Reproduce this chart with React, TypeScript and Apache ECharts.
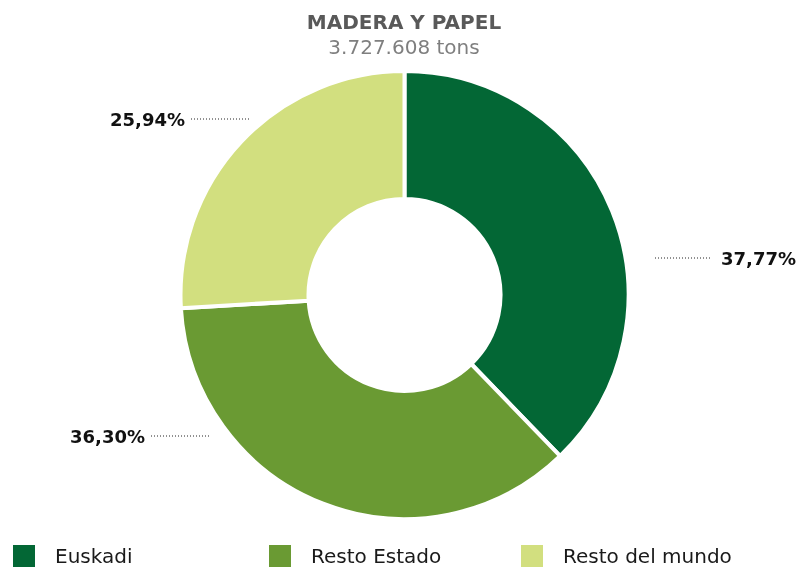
import React, { useEffect, useRef } from "react";
import * as echarts from "echarts";

const categories = ["Euskadi", "Resto Estado", "Resto del mundo"];
const shares = [37.77, 36.3, 25.94];
const sliceColors = ["#036735", "#6a9a33", "#d2df7f"];
const titleText = "MADERA Y PAPEL";
const subtitleText = "3.727.608 tons";

// label placement (layout only)
const labelSpots = [
  { x: 796, y: 258, align: "right" },
  { x: 145, y: 436, align: "right" },
  { x: 185, y: 119, align: "right" },
];
const leaderLines = [
  [655, 712, 258],
  [151, 209, 436],
  [191, 249, 119],
];
const legendLefts = [11, 267, 519];

const FONT = "DejaVu Sans";

export default function App() {
  const ref = useRef<HTMLDivElement>(null);
  useEffect(() => {
    if (!ref.current) return;
    const chart = echarts.init(ref.current, undefined, { renderer: "svg" });
    const fmt = (v: number) => v.toFixed(2).replace(".", ",") + "%";
    chart.setOption({
      animation: false,
      color: sliceColors,
      title: {
        text: titleText,
        subtext: subtitleText,
        left: 404,
        top: 11,
        textAlign: "center",
        itemGap: 3,
        padding: 0,
        textStyle: { fontFamily: FONT, fontSize: 20, fontWeight: "bold", color: "#595959", lineHeight: 22 },
        subtextStyle: { fontFamily: FONT, fontSize: 20, color: "#7f7f7f", lineHeight: 22 },
      },
      legend: categories.map((c, i) => ({
        data: [c],
        left: legendLefts[i],
        top: 543,
        padding: 0,
        icon: "rect",
        itemWidth: 24,
        itemHeight: 24,
        itemGap: 17,
        selectedMode: false,
        textStyle: {
          fontFamily: FONT,
          fontSize: 20,
          lineHeight: 18,
          color: "#1a1a1a",
          padding: [0, 0, 0, 14],
        },
      })),
      series: [
        {
          type: "pie",
          center: [404.5, 295],
          radius: [96, 224],
          startAngle: 90,
          clockwise: true,
          itemStyle: { borderColor: "#ffffff", borderWidth: 4 },
          emphasis: { disabled: true },
          data: categories.map((c, i) => ({ name: c, value: shares[i] })),
          label: {
            show: true,
            formatter: (p: any) => fmt(p.value),
            fontFamily: FONT,
            fontSize: 18,
            fontWeight: "bold",
            color: "#111111",
          },
          labelLine: { show: false },
          labelLayout: (p: any) => {
            const s = labelSpots[p.dataIndex];
            return { x: s.x, y: s.y, align: s.align, verticalAlign: "middle" };
          },
        },
      ],
      graphic: leaderLines.map((l) => ({
        type: "line",
        shape: { x1: l[0], y1: l[2], x2: l[1], y2: l[2] },
        style: { stroke: "#222222", lineWidth: 1, lineDash: [1, 2] },
        silent: true,
      })),
    });
    return () => chart.dispose();
  }, []);
  return (
    <div
      ref={ref}
      style={{ position: "fixed", left: 0, top: 0, width: 798, height: 567 }}
    />
  );
}
